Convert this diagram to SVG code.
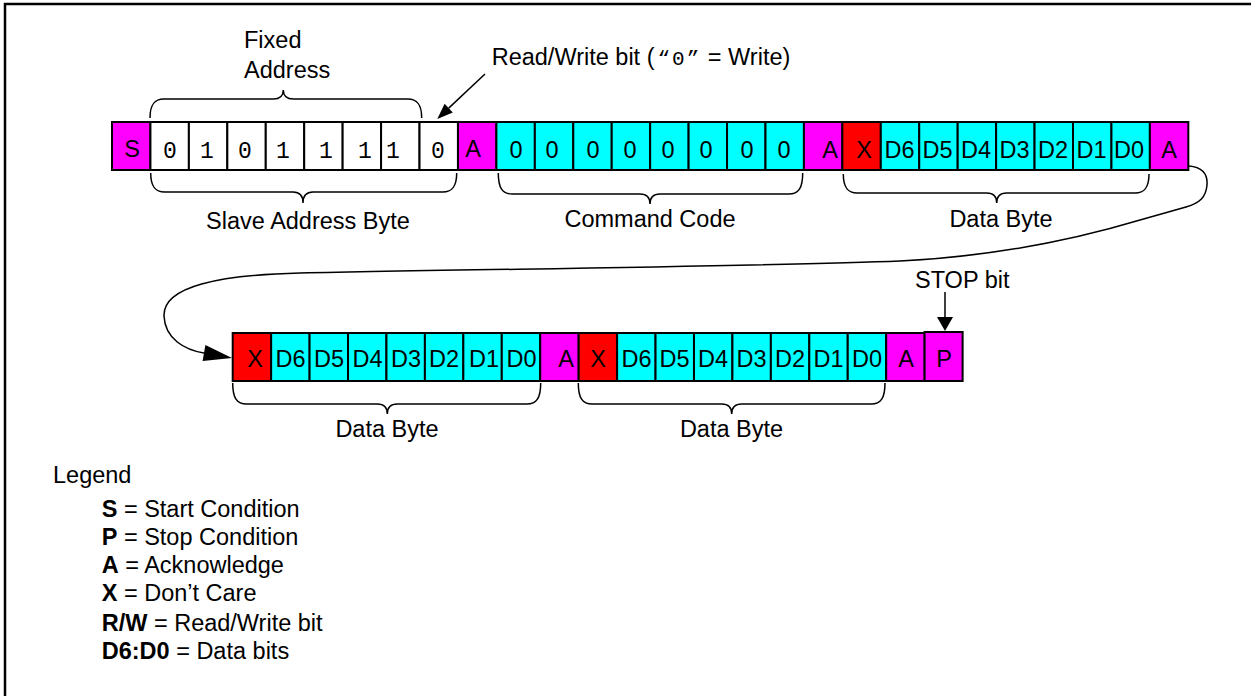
<svg xmlns="http://www.w3.org/2000/svg" width="1251" height="696" viewBox="0 0 1251 696">
<style>
.c{stroke:#000;stroke-width:2}
.m{fill:#ff00ff}.cy{fill:#00ffff}.r{fill:#ff0000}.w{fill:#ffffff}
.t{font-family:"Liberation Sans",Arial,sans-serif;font-size:23.5px;fill:#000}
.ct{font-family:"Liberation Sans",Arial,sans-serif;font-size:23.5px;fill:#000;text-anchor:middle}
.mono{font-family:"Liberation Mono","Courier New",monospace;font-size:23px;fill:#000;text-anchor:middle}
.br{fill:none;stroke:#000;stroke-width:1.5}
.ln{fill:none;stroke:#000;stroke-width:1.5}
.b{font-weight:bold}
</style>
<rect width="1251" height="696" fill="#fff"/>
<path d="M5,696 V4 H1251" fill="none" stroke="#000" stroke-width="2.5"/>

<g id="row1">
<g id="start"><rect class="c m" x="112" y="122" width="38.44" height="48"/><text class="ct" x="132" y="157">S</text></g>
<g id="slave-address">
<rect class="c w" x="150.44" y="122" width="38.44" height="48"/>
<rect class="c w" x="188.88" y="122" width="38.44" height="48"/>
<rect class="c w" x="227.32" y="122" width="38.44" height="48"/>
<rect class="c w" x="265.76" y="122" width="38.44" height="48"/>
<rect class="c w" x="304.2" y="122" width="38.44" height="48"/>
<rect class="c w" x="342.64" y="122" width="38.44" height="48"/>
<rect class="c w" x="381.08" y="122" width="38.44" height="48"/>
<rect class="c w" x="419.52" y="122" width="38.44" height="48"/>
<text class="mono" x="170" y="158">0</text>
<text class="mono" x="207" y="158">1</text>
<text class="mono" x="245" y="158">0</text>
<text class="mono" x="283" y="158">1</text>
<text class="mono" x="326" y="158">1</text>
<text class="mono" x="365" y="158">1</text>
<text class="mono" x="393" y="158">1</text>
<text class="mono" x="438" y="158">0</text>
</g>
<g id="ack1"><rect class="c m" x="457.96" y="122" width="38.44" height="48"/><text class="ct" x="473" y="157">A</text></g>
<g id="command">
<rect class="c cy" x="496.4" y="122" width="38.44" height="48"/>
<rect class="c cy" x="534.84" y="122" width="38.44" height="48"/>
<rect class="c cy" x="573.28" y="122" width="38.44" height="48"/>
<rect class="c cy" x="611.72" y="122" width="38.44" height="48"/>
<rect class="c cy" x="650.16" y="122" width="38.44" height="48"/>
<rect class="c cy" x="688.6" y="122" width="38.44" height="48"/>
<rect class="c cy" x="727.04" y="122" width="38.44" height="48"/>
<rect class="c cy" x="765.48" y="122" width="38.44" height="48"/>
<text class="ct" x="516" y="158">0</text>
<text class="ct" x="552" y="158">0</text>
<text class="ct" x="593" y="158">0</text>
<text class="ct" x="630" y="158">0</text>
<text class="ct" x="668" y="158">0</text>
<text class="ct" x="706" y="158">0</text>
<text class="ct" x="747" y="158">0</text>
<text class="ct" x="784" y="158">0</text>
</g>
<g id="ack2"><rect class="c m" x="803.92" y="122" width="38.44" height="48"/><text class="ct" x="830" y="158">A</text></g>
<g id="data1">
<rect class="c r" x="842.36" y="122" width="38.44" height="48"/>
<rect class="c cy" x="880.8" y="122" width="38.44" height="48"/>
<rect class="c cy" x="919.24" y="122" width="38.44" height="48"/>
<rect class="c cy" x="957.68" y="122" width="38.44" height="48"/>
<rect class="c cy" x="996.12" y="122" width="38.44" height="48"/>
<rect class="c cy" x="1034.56" y="122" width="38.44" height="48"/>
<rect class="c cy" x="1073" y="122" width="38.44" height="48"/>
<rect class="c cy" x="1111.44" y="122" width="38.44" height="48"/>
<text class="ct" x="864" y="158">X</text>
<text class="ct" x="899.5" y="158">D6</text>
<text class="ct" x="937.5" y="158">D5</text>
<text class="ct" x="976" y="158">D4</text>
<text class="ct" x="1014.5" y="158">D3</text>
<text class="ct" x="1053" y="158">D2</text>
<text class="ct" x="1091.5" y="158">D1</text>
<text class="ct" x="1129" y="158">D0</text>
</g>
<g id="ack3"><rect class="c m" x="1149.88" y="122" width="38.44" height="48"/><text class="ct" x="1169" y="158">A</text></g>
</g>

<g id="row2">
<g id="data2">
<rect class="c r" x="232.7" y="333" width="38.44" height="48"/>
<rect class="c cy" x="271.14" y="333" width="38.44" height="48"/>
<rect class="c cy" x="309.58" y="333" width="38.44" height="48"/>
<rect class="c cy" x="348.02" y="333" width="38.44" height="48"/>
<rect class="c cy" x="386.46" y="333" width="38.44" height="48"/>
<rect class="c cy" x="424.9" y="333" width="38.44" height="48"/>
<rect class="c cy" x="463.34" y="333" width="38.44" height="48"/>
<rect class="c cy" x="501.78" y="333" width="38.44" height="48"/>
<text class="ct" x="255" y="367">X</text>
<text class="ct" x="290.5" y="367">D6</text>
<text class="ct" x="329" y="367">D5</text>
<text class="ct" x="367.5" y="367">D4</text>
<text class="ct" x="406" y="367">D3</text>
<text class="ct" x="444" y="367">D2</text>
<text class="ct" x="484" y="367">D1</text>
<text class="ct" x="521.5" y="367">D0</text>
</g>
<g id="ack4"><rect class="c m" x="540.22" y="333" width="38.44" height="48"/><text class="ct" x="566" y="367">A</text></g>
<g id="data3">
<rect class="c r" x="578.66" y="333" width="38.44" height="48"/>
<rect class="c cy" x="617.1" y="333" width="38.44" height="48"/>
<rect class="c cy" x="655.54" y="333" width="38.44" height="48"/>
<rect class="c cy" x="693.98" y="333" width="38.44" height="48"/>
<rect class="c cy" x="732.42" y="333" width="38.44" height="48"/>
<rect class="c cy" x="770.86" y="333" width="38.44" height="48"/>
<rect class="c cy" x="809.3" y="333" width="38.44" height="48"/>
<rect class="c cy" x="847.74" y="333" width="38.44" height="48"/>
<text class="ct" x="598" y="367">X</text>
<text class="ct" x="636.5" y="367">D6</text>
<text class="ct" x="674.5" y="367">D5</text>
<text class="ct" x="713" y="367">D4</text>
<text class="ct" x="751.5" y="367">D3</text>
<text class="ct" x="790" y="367">D2</text>
<text class="ct" x="828.5" y="367">D1</text>
<text class="ct" x="867" y="367">D0</text>
</g>
<g id="ack5"><rect class="c m" x="886.18" y="333" width="38.44" height="48"/><text class="ct" x="906" y="367">A</text></g>
<g id="stop"><rect class="c m" x="924.62" y="332" width="38" height="49"/><text class="ct" x="944" y="367">P</text></g>
</g>

<g id="braces">
<path class="br" d="M150,118 C150,105 154,99 164,99 L273.3,99 C279.3,99 283.3,96 283.3,90 C283.3,96 287.3,99 293.3,99 L407.7,99 C417.7,99 421.7,105 421.7,118"/>
<path class="br" d="M150.7,173 C150.7,186 154.7,192 164.7,192 L293,192 C299,192 303,195 303,203 C303,195 307,192 313,192 L442.7,192 C452.7,192 456.7,186 456.7,173"/>
<path class="br" d="M498.3,173 C498.3,188 502.3,194 512.3,194 L640,194 C646,194 650,197 650,204 C650,197 654,194 660,194 L788.7,194 C798.7,194 802.7,188 802.7,173"/>
<path class="br" d="M843.3,174 C843.3,187 847.3,193 857.3,193 L986.7,193 C992.7,193 996.7,196 996.7,203 C996.7,196 1000.7,193 1006.7,193 L1135,193 C1145,193 1149,187 1149,174"/>
<path class="br" d="M232.7,383 C232.7,398 236.7,404 246.7,404 L377.3,404 C383.3,404 387.3,407 387.3,414 C387.3,407 391.3,404 397.3,404 L526.7,404 C536.7,404 540.7,398 540.7,383"/>
<path class="br" d="M578.3,383 C578.3,398 582.3,404 592.3,404 L721.7,404 C727.7,404 731.7,407 731.7,414 C731.7,407 735.7,404 741.7,404 L871,404 C881,404 885,398 885,383"/>
</g>

<g id="labels">
<text class="t" x="244" y="48">Fixed</text>
<text class="t" x="244" y="78">Address</text>
<text class="t" x="491.7" y="65">Read/Write bit (<tspan font-family="'Liberation Mono',monospace" font-size="21" letter-spacing="2" dx="3">“0”</tspan> = Write)</text>
<text class="ct" x="308" y="229">Slave Address Byte</text>
<text class="ct" x="650" y="227">Command Code</text>
<text class="ct" x="1001" y="227">Data Byte</text>
<text class="ct" x="387" y="437">Data Byte</text>
<text class="ct" x="731.5" y="437">Data Byte</text>
<text class="t" x="915" y="288">STOP bit</text>
</g>

<g id="connectors">
<path class="ln" d="M1189,166 C1201,167 1208,173 1207,185 C1206,197 1200,203 1186,207 L1140,220 C1080,238 1000,256 900,261 C780,266 500,269 300,273 C220,275 163,286 164,316 C165,339 185,350 204,353"/>
<polygon points="232,358 205.4,345.1 202.6,360.9" fill="#000"/>
<line class="ln" x1="485" y1="74" x2="448.7" y2="108.1"/>
<polygon points="437.3,119 452.8,112.5 444.6,103.7" fill="#000"/>
<line class="ln" x1="945" y1="292" x2="945" y2="318"/>
<polygon points="945,331 937,317 953,317" fill="#000"/>
</g>

<g id="legend">
<text class="t" x="53" y="483">Legend</text>
<text class="t" x="101.7" y="517"><tspan class="b">S</tspan> = Start Condition</text>
<text class="t" x="101.7" y="545"><tspan class="b">P</tspan> = Stop Condition</text>
<text class="t" x="101.7" y="573"><tspan class="b">A</tspan> = Acknowledge</text>
<text class="t" x="101.7" y="601"><tspan class="b">X</tspan> = Don’t Care</text>
<text class="t" x="101.7" y="631"><tspan class="b">R/W</tspan> = Read/Write bit</text>
<text class="t" x="101.7" y="659"><tspan class="b">D6:D0</tspan> = Data bits</text>
</g>
</svg>
